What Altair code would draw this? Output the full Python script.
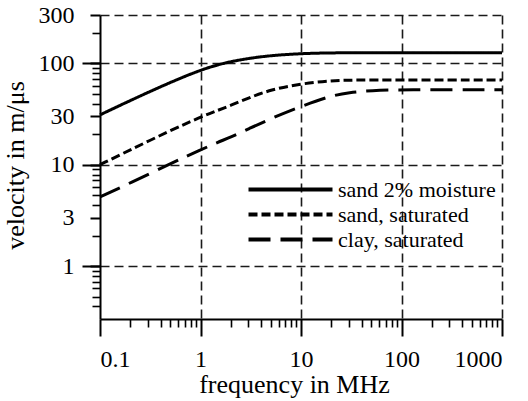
import altair as alt
import pandas as pd

# ---- data ----
freq_mhz = [0.1, 0.2, 0.5, 1, 1.5, 2, 3, 5, 10, 20, 30, 50, 100, 1000]
sand_moist = [31, 43, 65, 86, 97, 104, 112, 119.5, 125, 127, 127, 127, 127, 127]
sand_sat = [10, 14, 21.7, 29.5, 34.5, 38.5, 45.5, 55, 63, 67.5, 68.3, 68.5, 68.5, 68.5]
clay_sat = [4.8, 6.6, 10.2, 14, 16.7, 18.7, 22.5, 28.5, 37.7, 48, 51.5, 54, 55, 55]
series_names = ["sand 2% moisture", "sand, saturated", "clay, saturated"]

x_major = [0.1, 1, 10, 100, 1000]
x_minor = [0.2, 0.3, 0.4, 0.5, 0.6, 0.7, 0.8, 0.9,
           2, 3, 4, 5, 6, 7, 8, 9,
           20, 30, 40, 50, 60, 70, 80, 90,
           200, 300, 400, 500, 600, 700, 800, 900]
x_grid = [1, 10, 100, 1000]
y_labels = [1, 3, 10, 30, 100, 300]
y_decades = [1, 10, 100]
y_minor = [0.4, 0.5, 0.6, 0.7, 0.8, 0.9, 2, 4, 5, 6, 7, 8, 9,
           20, 40, 50, 60, 70, 80, 90, 200]
y_grid = [1, 10, 100, 300]

rows = []
for name, vals in zip(series_names, [sand_moist, sand_sat, clay_sat]):
    for f, v in zip(freq_mhz, vals):
        rows.append({"series": name, "freq": f, "vel": v})
df = pd.DataFrame(rows)

FONT = "Liberation Serif"
xscale = alt.Scale(type="log", domain=[0.1, 1000], nice=False)
yscale = alt.Scale(type="log", domain=[0.3, 300], nice=False)

blank = dict(labels=False, domain=False, title=None)

# gridlines
grid_layer = alt.Chart(df).mark_line(strokeOpacity=0).encode(
    x=alt.X("freq:Q", scale=xscale, axis=alt.Axis(orient="bottom", values=x_grid, ticks=False, grid=True,
                                                  gridDash=[9, 5], gridColor="#1a1a1a", gridWidth=1.6, **blank)),
    y=alt.Y("vel:Q", scale=yscale, axis=alt.Axis(orient="left", values=y_grid, ticks=False, grid=True,
                                                 gridDash=[9, 5], gridColor="#1a1a1a", gridWidth=1.6, **blank)),
    detail="series:N",
)

# minor ticks
minor_layer = alt.Chart(df).mark_line(strokeOpacity=0).encode(
    x=alt.X("freq:Q", scale=xscale, axis=alt.Axis(orient="bottom", values=x_minor, ticks=True, tickSize=8,
                                                  tickWidth=1.6, tickColor="black", grid=False, **blank)),
    y=alt.Y("vel:Q", scale=yscale, axis=alt.Axis(orient="left", values=y_minor, ticks=True, tickSize=8,
                                                 tickWidth=1.6, tickColor="black", grid=False, **blank)),
    detail="series:N",
)

# long decade ticks on y
decade_layer = alt.Chart(df).mark_line(strokeOpacity=0).encode(
    x=alt.X("freq:Q", scale=xscale, axis=None),
    y=alt.Y("vel:Q", scale=yscale, axis=alt.Axis(orient="left", values=y_decades, ticks=True, tickSize=18,
                                                 tickWidth=2, tickColor="black", grid=False, **blank)),
    detail="series:N",
)

lines = alt.Chart(df).mark_line(strokeWidth=3, color="black", interpolate="basis").encode(
    x=alt.X("freq:Q", scale=xscale, axis=alt.Axis(
        orient="bottom", values=x_major, format="~g", tickSize=17, tickWidth=2, tickColor="black",
        domainWidth=2, domainColor="black", grid=False,
        labelFont=FONT, labelFontSize=24, labelColor="black", labelPadding=11,
        title="frequency in MHz", titleFont=FONT, titleFontSize=26, titleFontWeight="normal",
        titleColor="black", titleX=194, titleY=73, titleBaseline="alphabetic", titleAlign="center")),
    y=alt.Y("vel:Q", scale=yscale, axis=alt.Axis(
        orient="left", values=y_labels, format="~g", tickSize=10, tickWidth=2, tickColor="black",
        domainWidth=2, domainColor="black", grid=False,
        labelFont=FONT, labelFontSize=24, labelColor="black", labelPadding=16,
        title="velocity in m/μs", titleFont=FONT, titleFontSize=26, titleFontWeight="normal",
        titleColor="black", titleAngle=-90, titleX=-85, titleY=150, titleBaseline="middle",
        titleAlign="center")),
    strokeDash=alt.StrokeDash("series:N", scale=alt.Scale(domain=series_names, range=[[1, 0], [9, 4], [22, 10]]),
                              legend=alt.Legend(orient="none", legendX=136, legendY=162, title=None,
                                                symbolType="M-4,0H4", symbolSize=441, symbolStrokeWidth=4,
                                                symbolStrokeColor="black", symbolOffset=42,
                                                labelFont=FONT, labelFontSize=22, labelColor="black",
                                                labelOffset=35, rowPadding=1, padding=0)),
)

chart = alt.layer(grid_layer, minor_layer, decade_layer, lines).resolve_axis(
    x="independent", y="independent"
).properties(
    width=402, height=304,
    autosize=alt.AutoSizeParams(type="none"),
    padding={"left": 100, "top": 15, "right": 26, "bottom": 82},
    background="white",
).configure_view(stroke=None)

chart.save("out.html", embed_options={"renderer": "svg", "actions": False})
